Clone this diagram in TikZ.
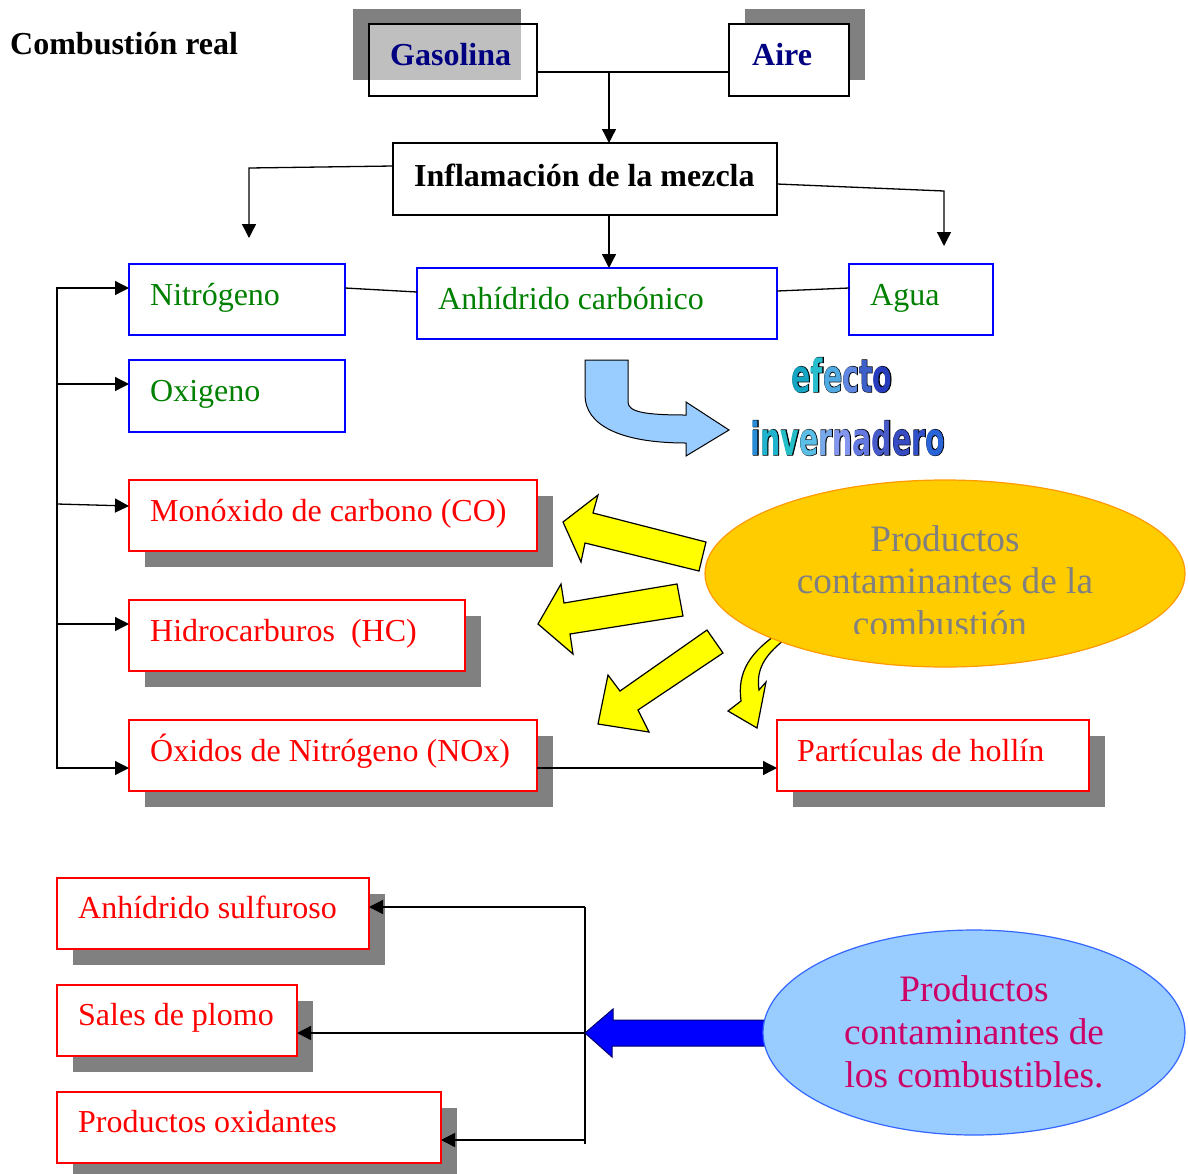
\documentclass[tikz,border=0pt]{standalone}
\usepackage{fontspec}
\setmainfont{Liberation Serif}
\newfontfamily\wafont{DejaVu Sans Condensed}
\usetikzlibrary{arrows.meta,shapes.geometric,shadows}

\definecolor{shgray}{RGB}{128,128,128}
\definecolor{navytxt}{RGB}{0,0,128}
\definecolor{grntxt}{RGB}{0,128,0}
\definecolor{redln}{RGB}{255,0,0}
\definecolor{bluln}{RGB}{0,0,255}
\definecolor{skyfill}{RGB}{153,204,255}
\definecolor{goldfill}{RGB}{255,204,0}
\definecolor{goldedge}{RGB}{255,153,0}
\definecolor{ellblue}{RGB}{51,102,255}
\definecolor{berry}{RGB}{204,0,102}
\definecolor{yell}{RGB}{255,255,0}
\definecolor{arrownavy}{RGB}{0,0,110}

\tikzset{
  ln/.style={line width=1.3pt},
  conn/.style={ln,-{Triangle[length=14pt,width=14pt]}},
  box/.style={draw,line width=1.6pt,fill=white,inner sep=0pt,outer sep=0pt,anchor=north west},
  gasbox/.style={box,draw=bluln},
  redbox/.style={box,draw=redln,drop shadow={shadow xshift=16pt,shadow yshift=-16pt,fill=shgray,opacity=1}},
  blkbox/.style={box,draw=black},
  txt/.style={font=\fontsize{32}{38}\selectfont,inner sep=0pt,anchor=base west},
  btxt/.style={txt,font=\fontsize{32}{38}\selectfont\bfseries},
  etxt/.style={font=\fontsize{37.3}{43}\selectfont,inner sep=0pt,anchor=base},
  yarrow/.style={fill=yell,draw=black,line width=1.2pt,line join=miter},
  wa/.style={font=\wafont\bfseries\fontsize{38}{44}\selectfont,inner sep=0pt,anchor=base,xscale=0.83,yscale=1.2},
}

\newcommand{\efectoword}{%
  \textcolor[RGB]{20,165,195}{e}\textcolor[RGB]{40,190,205}{f}\textcolor[RGB]{80,170,225}{e}%
  \textcolor[RGB]{95,135,225}{c}\textcolor[RGB]{60,95,200}{t}\textcolor[RGB]{40,60,190}{o}}
\newcommand{\invword}{%
  \textcolor[RGB]{40,140,215}{i}\textcolor[RGB]{30,180,205}{n}\textcolor[RGB]{35,190,200}{v}%
  \textcolor[RGB]{90,190,230}{e}\textcolor[RGB]{120,170,235}{r}\textcolor[RGB]{130,150,240}{n}%
  \textcolor[RGB]{100,120,225}{a}\textcolor[RGB]{70,90,200}{d}\textcolor[RGB]{55,75,195}{e}%
  \textcolor[RGB]{50,80,200}{r}\textcolor[RGB]{40,100,215}{o}}

\begin{document}
\begin{tikzpicture}[x=1pt,y=-1pt]
\useasboundingbox[fill=white] (0,0) rectangle (1188,1173);

% title
\node[btxt] (title) at (10,54) {Combustión real};

% fuel and air
\fill[shgray] (353,9) rectangle (521,80);
\node[blkbox,fill opacity=0.5,minimum width=168pt,minimum height=72pt] (gas) at (369,24) {};
\node[btxt,text=navytxt] (gast) at (390,65) {Gasolina};
\fill[shgray] (745,9) rectangle (865,80);
\node[blkbox,minimum width=120pt,minimum height=72pt] (aire) at (729,24) {};
\node[btxt,text=navytxt] (airet) at (752,65) {Aire};

% ignition
\node[blkbox,minimum width=384pt,minimum height=72pt] (infl) at (393,143) {};
\node[btxt] (inflt) at (414,186) {Inflamación de la mezcla};

% combustion products
\node[gasbox,minimum width=216pt,minimum height=71pt] (nit) at (129,264) {};
\node[txt,text=grntxt] (nitt) at (150,305) {Nitrógeno};
\node[gasbox,minimum width=360pt,minimum height=71pt] (anh) at (417,268) {};
\node[txt,text=grntxt] (anht) at (438,309) {Anhídrido carbónico};
\node[gasbox,minimum width=144pt,minimum height=71pt] (agua) at (849,264) {};
\node[txt,text=grntxt] (aguat) at (870,305) {Agua};
\node[gasbox,minimum width=216pt,minimum height=72pt] (oxi) at (129,360) {};
\node[txt,text=grntxt] (oxit) at (150,401) {Oxigeno};

\node[redbox,minimum width=408pt,minimum height=71pt] (mon) at (129,480) {};
\node[txt,text=redln] (mont) at (150,521) {Monóxido de carbono (CO)};
\node[redbox,minimum width=336pt,minimum height=71pt] (hid) at (129,600) {};
\node[txt,text=redln] (hidt) at (150,641) {Hidrocarburos\ \ (HC)};
\node[redbox,minimum width=408pt,minimum height=71pt] (oxn) at (129,720) {};
\node[txt,text=redln] (oxnt) at (150,761) {Óxidos de Nitrógeno (NOx)};
\node[redbox,minimum width=312pt,minimum height=71pt] (par) at (777,720) {};
\node[txt,text=redln] (part) at (797,761) {Partículas de hollín};

% fuel contaminants
\node[redbox,minimum width=312pt,minimum height=71pt] (sul) at (57,878) {};
\node[txt,text=redln] (sult) at (78,918) {Anhídrido sulfuroso};
\node[redbox,minimum width=240pt,minimum height=71pt] (sal) at (57,985) {};
\node[txt,text=redln] (salt) at (78,1025) {Sales de plomo};
\node[redbox,minimum width=384pt,minimum height=71pt] (oxd) at (57,1092) {};
\node[txt,text=redln] (oxdt) at (78,1132) {Productos oxidantes};

% connectors, top part
\coordinate (jn) at (609,72);
\draw[ln] ([yshift=-48pt]gas.north east) -- ([yshift=-48pt]aire.north west);
\draw[conn] (jn) -- (infl.north -| jn);
\coordinate (lcorner) at (249,168);
\coordinate (lend) at (249,238);
\draw[conn] ([yshift=-23pt]infl.north west) -- (lcorner) -- (lend);
\coordinate (rcorner) at (944,191);
\coordinate (rend) at (944,246);
\draw[conn] ([yshift=-41pt]infl.north east) -- (rcorner) -- (rend);
\draw[conn] (infl.south -| jn) -- (anh.north -| jn);
\draw[ln] ([yshift=-24pt]nit.north east) -- ([yshift=-24pt]anh.north west);
\draw[ln] ([yshift=-23pt]anh.north east) -- ([yshift=-24pt]agua.north west);

% left bus
\coordinate (b1) at (57,288);
\coordinate (b2) at (57,384);
\coordinate (b3) at (57,504);
\coordinate (b4) at (57,624);
\coordinate (b5) at (57,768);
\draw[ln,line cap=rect] (b1) -- (b5);
\draw[conn] (b1) -- ([yshift=-24pt]nit.north west);
\draw[conn] (b2) -- ([yshift=-24pt]oxi.north west);
\draw[conn] (b3) -- ([yshift=-26pt]mon.north west);
\draw[conn] (b4) -- ([yshift=-24pt]hid.north west);
\draw[conn] (b5) -- ([yshift=-48pt]oxn.north west);
\draw[conn] ([yshift=-48pt]oxn.north east) -- ([yshift=-48pt]par.north west);

% bottom bus
\coordinate (c1) at (585,907);
\coordinate (c2) at (585,1033);
\coordinate (c3) at (585,1140);
\coordinate (c4) at (585,1144);
\draw[ln] (c1) -- (c4);
\draw[conn] (c1) -- ([yshift=-29pt]sul.north east);
\draw[conn] (c2) -- ([yshift=-48pt]sal.north east);
\draw[conn] (c3) -- ([yshift=-48pt]oxd.north east);

% greenhouse bent arrow
\draw[fill=skyfill,draw=black,line width=1pt,line join=miter]
  (585,360) -- (628,360) -- (628,402)
  .. controls (628,412) and (645,415) .. (686,415)
  -- (686,402) -- (729,430) -- (686,456) -- (686,443)
  .. controls (620,443) and (585,425) .. (585,395) -- cycle;

% word art
\node[wa,text=black] (efo) at (842,392) {\addfontfeature{FakeBold=2.5}efecto};
\node[wa] (ef) at (842,392) {\efectoword};
\node[wa,text=black] (invo) at (848,455) {\addfontfeature{FakeBold=2.5}invernadero};
\node[wa] (inv) at (848,455) {\invword};

% yellow arrows
\draw[yarrow] (563,522) -- (598,495) -- (593,513) -- (706,542) -- (699,571) -- (585,543) -- (581,562) -- cycle;
\draw[yarrow] (538,624) -- (561,584) -- (564,603) -- (677,584) -- (683,616) -- (570,634) -- (573,654) -- cycle;
\draw[yarrow] (598,724) -- (608,675) -- (620,691) -- (707,630) -- (723,653) -- (638,710) -- (649,732) -- cycle;
\draw[yarrow] (757,728) -- (728,711) -- (741,701)
  .. controls (737,672) and (750,652) .. (780,632)
  -- (784,640)
  .. controls (764,656) and (756,670) .. (759,690)
  -- (766,682) -- cycle;

% blue arrow from the fuel ellipse
\coordinate (pcfw) at (763,1032);
\draw[fill=bluln,draw=arrownavy,line width=1pt,line join=miter]
  ([xshift=10pt,yshift=12pt]pcfw) -- ++(-160,0) -- ++(0,-11) -- (c2)
  -- ++(27,24) -- ++(0,-11) -- ++(160,0) -- cycle;

% ellipses
\node[ellipse,minimum width=480pt,minimum height=187pt,inner sep=0pt,fill=goldfill,draw=goldedge,line width=1.2pt] (pcc) at (945,573.5) {};
\node[etxt,text=shgray] (pc1) at (945,551) {Productos};
\node[etxt,text=shgray] (pc2) at (945,593) {contaminantes de la};
\begin{scope}
  \clip (700,600) rectangle (1188,633);
  \node[etxt,text=shgray] (pc3) at (940,636) {combustión};
\end{scope}

\node[ellipse,minimum width=422pt,minimum height=205pt,inner sep=0pt,fill=skyfill,draw=ellblue,line width=1.2pt] (pcf) at (974,1032.5) {};
\node[etxt,text=berry] (pf1) at (974,1001) {Productos};
\node[etxt,text=berry] (pf2) at (974,1044) {contaminantes de};
\node[etxt,text=berry] (pf3) at (974,1087) {los combustibles.};
\end{tikzpicture}
\end{document}
